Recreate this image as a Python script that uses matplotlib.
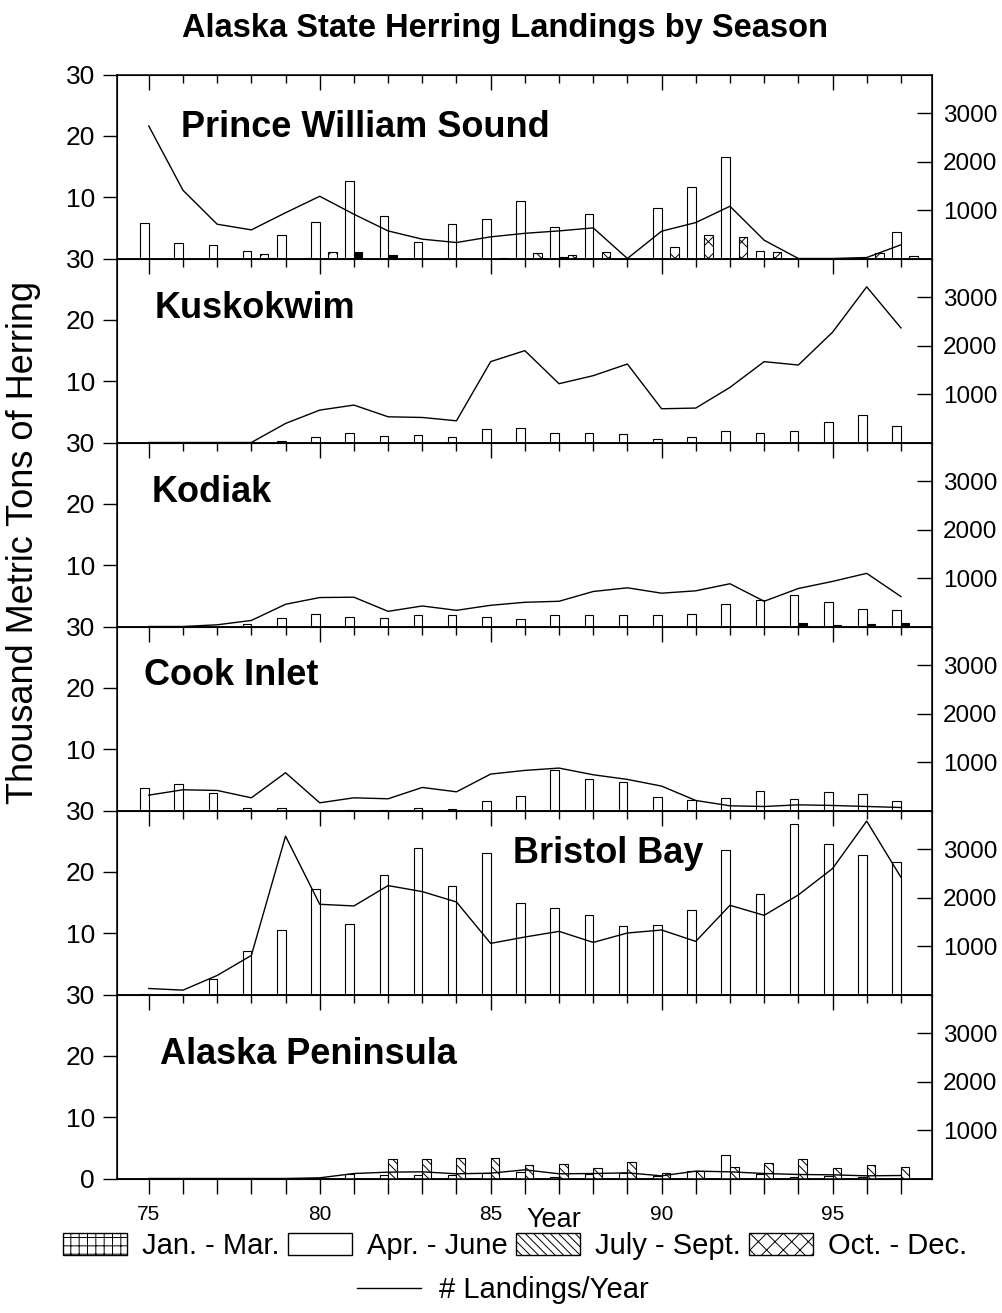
import matplotlib.pyplot as plt
import numpy as np
from matplotlib.patches import Patch
from matplotlib.lines import Line2D
from matplotlib.ticker import MultipleLocator

plt.rcParams['font.family'] = ['Liberation Sans', 'DejaVu Sans']
plt.rcParams['hatch.linewidth'] = 0.7

W, H = 1003, 1313

years = np.arange(75, 98)   # 1975 - 1997

# thousand metric tons per season, one value per year
pws_jan = [0, 0, 0, 0, 0.15, 0.15, 0, 0, 0, 0, 0, 0, 0, 0, 0, 0, 0, 0, 0, 0, 0, 0, 0]
pws_apr = [5.8, 2.5, 2.2, 1.25, 3.9, 5.95, 12.7, 7.0, 2.65, 5.7, 6.4, 9.4, 5.2, 7.3, 0,
           8.2, 11.7, 16.5, 1.15, 0, 0, 0, 4.4]
pws_jul = [0] * 23
pws_oct = [0, 0, 0, 0.8, 0, 1.1, 0, 0, 0, 0, 0.15, 0.95, 0.55, 1.1, 0, 1.8, 3.8, 3.5, 1.0,
           0, 0, 0.9, 0.45]
pws_solid = [0, 0, 0, 0, 0, 0, 1.1, 0.65, 0, 0, 0, 0, 0.3, 0, 0, 0, 0, 0, 0, 0, 0, 0, 0]
pws_land = [2735, 1409, 708, 591, 945, 1285, 914, 570, 399, 330, 447, 520, 570, 632, 0,
            564, 742, 1079, 378, 0, 0, 20, 282]

kus_apr = [0, 0, 0, 0, 0.3, 0.87, 1.5, 1.0, 1.25, 0.87, 2.2, 2.3, 1.6, 1.55, 1.35, 0.55,
           0.87, 1.95, 1.5, 1.85, 3.4, 4.45, 2.75]
kus_land = [0, 0, 0, 0, 393, 669, 773, 531, 517, 448, 1670, 1897, 1214, 1380, 1621, 697,
            711, 1138, 1670, 1600, 2277, 3215, 2367]

kod_apr = [0, 0, 0, 0.43, 1.46, 2.0, 1.62, 1.35, 1.9, 1.8, 1.62, 1.3, 1.8, 1.8, 1.9, 1.95,
           2.05, 3.75, 4.4, 5.2, 4.05, 2.9, 2.75]
kod_jul = [0] * 20 + [0.2, 0, 0]
kod_solid = [0] * 19 + [0.5, 0, 0.38, 0.5]
kod_land = [0, 0, 35, 125, 459, 598, 605, 313, 424, 334, 438, 500, 521, 723, 799, 688,
            737, 883, 521, 785, 931, 1098, 619]

ci_apr = [3.68, 4.33, 2.92, 0.38, 0.38, 0.1, 0.16, 0.1, 0.38, 0.2, 1.5, 2.4, 6.6, 5.1,
          4.65, 2.2, 1.73, 2.0, 3.2, 1.9, 3.03, 2.7, 1.57]
ci_land = [317, 428, 414, 262, 780, 159, 262, 242, 476, 386, 752, 828, 876, 738, 642, 504,
           207, 97, 83, 117, 104, 83, 62]

bb_apr = [0.1, 0.1, 2.46, 7.05, 10.55, 17.2, 11.5, 19.5, 23.9, 17.7, 23.1, 14.9, 14.1,
          12.95, 11.25, 11.3, 13.7, 23.6, 16.4, 27.8, 24.5, 22.8, 21.6]
bb_land = [124, 90, 393, 807, 3271, 1863, 1829, 2249, 2125, 1911, 1056, 1187, 1304, 1076,
           1270, 1332, 1097, 1842, 1635, 2056, 2601, 3581, 2422]

ap_apr = [0, 0, 0, 0, 0, 0, 0.8, 0.55, 0.65, 0.5, 0.93, 1.1, 0.27, 0.7, 0.93, 0.38, 1.3,
          3.87, 0.76, 0.3, 0.38, 0.2, 0]
ap_jul = [0, 0, 0, 0, 0, 0, 0, 3.1, 3.1, 3.27, 3.27, 2.24, 2.3, 1.7, 2.67, 0.82, 1.3, 1.8,
          2.6, 3.1, 1.64, 2.13, 1.8]
ap_land = [0, 0, 0, 0, 0, 14, 103, 131, 138, 97, 110, 179, 97, 103, 117, 55, 152, 138,
           103, 83, 76, 55, 62]

zeros = [0] * 23
regions = [
    ("Prince William Sound", pws_jan, pws_apr, pws_jul, pws_oct, pws_solid, pws_land),
    ("Kuskokwim", zeros, kus_apr, zeros, zeros, zeros, kus_land),
    ("Kodiak", zeros, kod_apr, kod_jul, zeros, kod_solid, kod_land),
    ("Cook Inlet", zeros, ci_apr, zeros, zeros, zeros, ci_land),
    ("Bristol Bay", zeros, bb_apr, zeros, zeros, zeros, bb_land),
    ("Alaska Peninsula", zeros, ap_apr, ap_jul, zeros, zeros, ap_land),
]
# pixel spot (left, baseline) of each region name
name_pos = [(181, 137), (155, 318), (152, 502), (144, 685), (513, 863), (160, 1064)]

season_hatch = ['++', '', '\\\\\\\\', 'xx']
season_off = [-0.375, -0.125, 0.125, 0.375]
bw = 0.25

fig = plt.figure(figsize=(W / 100, H / 100), dpi=100)

x0, x1 = 117, 932
top0, ph = 74.5, 184

for i, (name, jan, apr, jul, octo, solid, land) in enumerate(regions):
    top = top0 + ph * i
    ax = fig.add_axes([x0 / W, 1 - (top + ph) / H, (x1 - x0) / W, ph / H])
    for vals, hatch, off in zip([jan, apr, jul, octo], season_hatch, season_off):
        v = np.array(vals)
        m = v > 0
        if m.any():
            ax.bar(years[m] + off, v[m], width=bw, facecolor='white', edgecolor='black',
                   hatch=hatch, linewidth=0.8, zorder=2)
    s = np.array(solid)
    if (s > 0).any():
        ax.bar(years[s > 0] + 0.125, s[s > 0], width=bw, facecolor='black',
               edgecolor='black', linewidth=0.8, zorder=2)

    ax.set_xlim(74.07, 97.91)
    ax.set_ylim(0, 30)
    ax.set_xticks([75, 80, 85, 90, 95])
    ax.xaxis.set_minor_locator(MultipleLocator(1))
    ax.tick_params(axis='x', which='both', bottom=False, top=True, direction='in',
                   labelbottom=False, labeltop=False, width=1)
    ax.tick_params(axis='x', which='major', length=11)
    ax.tick_params(axis='x', which='minor', length=6)
    if i == len(regions) - 1:
        ax.set_yticks([0, 10, 20, 30])
    else:
        ax.set_yticks([10, 20, 30])
    ax.tick_params(axis='y', direction='out', length=10, width=1, labelsize=19, pad=6)
    for sp in ax.spines.values():
        sp.set_linewidth(1.1)

    ax2 = ax.twinx()
    ax2.plot(years, land, color='black', lw=1.0)
    ax2.set_ylim(0, 3800)
    ax2.set_yticks([1000, 2000, 3000])
    ax2.tick_params(axis='y', direction='in', length=11, width=1, labelsize=17.5, pad=8)

    fig.text(name_pos[i][0] / W, 1 - name_pos[i][1] / H, name, fontsize=26,
             fontweight='bold', ha='left', va='baseline')

    if i == len(regions) - 1:
        sec = ax.secondary_xaxis('bottom')
        sec.set_xticks([75, 80, 85, 90, 95])
        sec.xaxis.set_minor_locator(MultipleLocator(1))
        sec.tick_params(axis='x', which='both', direction='out', width=1, labelsize=15,
                        pad=8)
        sec.tick_params(axis='x', which='major', length=11)
        sec.tick_params(axis='x', which='minor', length=11)
        sec.spines['bottom'].set_linewidth(1.1)

fig.text(505 / W, 1 - 29 / H, "Alaska State Herring Landings by Season", fontsize=23.5,
         fontweight='bold', ha='center', va='center')
fig.text(24 / W, 1 - 543 / H, "Thousand Metric Tons of Herring", fontsize=26,
         rotation=90, ha='center', va='center')
fig.text(554 / W, 1 - 1227 / H, "Year", fontsize=19.5, ha='center', va='baseline')

season_handles = [
    Patch(facecolor='white', edgecolor='black', hatch='++', label='Jan. - Mar.'),
    Patch(facecolor='white', edgecolor='black', label='Apr. - June'),
    Patch(facecolor='white', edgecolor='black', hatch='\\\\\\\\', label='July - Sept.'),
    Patch(facecolor='white', edgecolor='black', hatch='xx', label='Oct. - Dec.'),
]
fig.legend(handles=season_handles, ncol=4, loc='center',
           bbox_to_anchor=(515 / W, 1 - 1246 / H), frameon=False, fontsize=21,
           handlelength=2.2, handleheight=0.75, handletextpad=0.5, columnspacing=0.3,
           borderpad=0)
fig.legend(handles=[Line2D([], [], color='black', lw=1.0, label='# Landings/Year')],
           loc='center', bbox_to_anchor=(503 / W, 1 - 1290 / H), frameon=False,
           fontsize=21, handlelength=2.2, handletextpad=0.6, borderpad=0)

fig.savefig('out.png', dpi=100)
